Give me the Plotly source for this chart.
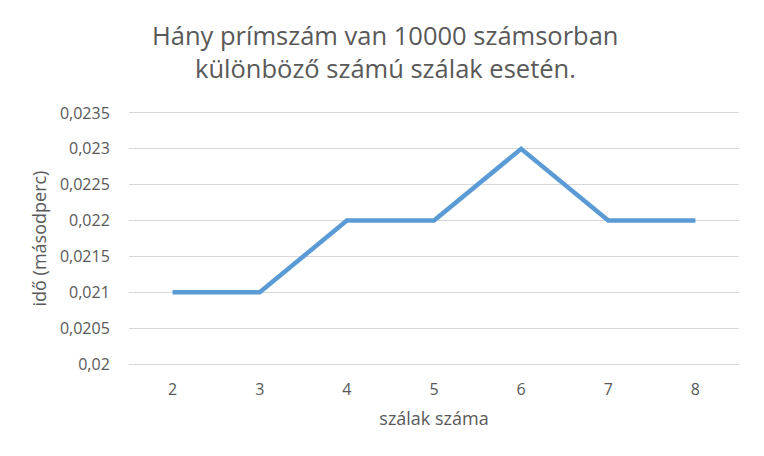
import plotly.graph_objects as go

# szálak száma vs. futási idő
threads = ['2', '3', '4', '5', '6', '7', '8']
times = [0.021, 0.021, 0.022, 0.022, 0.023, 0.022, 0.022]
title_lines = ['Hány prímszám van 10000 számsorban',
               'különböző számú szálak esetén.']

gray = '#595959'
font = 'Open Sans'

# the page puts the figure 8px in from the top-left corner
W, H = 756, 448
L, R, T, B = 121, 25, 105, 92
pw, ph = W - L - R, H - T - B

fig = go.Figure()
fig.add_trace(go.Scatter(x=threads, y=times, mode='lines',
                         line=dict(color='#5B9BD5', width=4.5),
                         hoverinfo='x+y'))

fig.update_layout(
    width=W, height=H,
    margin=dict(l=L, r=R, t=T, b=B),
    paper_bgcolor='white', plot_bgcolor='white',
    separators=',.',
    showlegend=False,
    font=dict(family=font, color=gray),
)

# two-line title, centred on the whole chart
for txt, yc in zip(title_lines, [27, 60]):
    fig.add_annotation(text=txt, xref='paper', yref='paper',
                       x=(W / 2 - L - 1) / pw, y=1 + (T - yc) / ph,
                       xanchor='center', yanchor='middle', showarrow=False,
                       font=dict(family=font, size=25.5, color=gray))

fig.update_xaxes(type='category', range=[-0.5, 6.5],
                 showgrid=False, zeroline=False,
                 showline=True, mirror=True, linecolor='#D9D9D9', linewidth=1,
                 ticks='outside', ticklen=0, ticklabelstandoff=11,
                 tickfont=dict(size=16, color=gray),
                 title=dict(text='szálak száma', standoff=13,
                            font=dict(size=18, color=gray)))
fig.update_yaxes(range=[0.02, 0.0235], dtick=0.0005, tick0=0.02,
                 tickformat='~g',
                 showgrid=True, gridcolor='#D9D9D9', gridwidth=1,
                 showline=False, zeroline=False,
                 ticks='outside', ticklen=0, ticklabelstandoff=15,
                 tickfont=dict(size=16, color=gray),
                 title=dict(text='idő (másodperc)', standoff=8,
                            font=dict(size=18, color=gray)))

# szürke keret jobb oldalon
fig.add_shape(type='line', xref='paper', yref='paper',
              x0=(W - 1.5 - L) / pw, x1=(W - 1.5 - L) / pw, y0=-B / ph, y1=1 + T / ph,
              line=dict(color='#D9D9D9', width=2))

fig.write_html('out.html')
